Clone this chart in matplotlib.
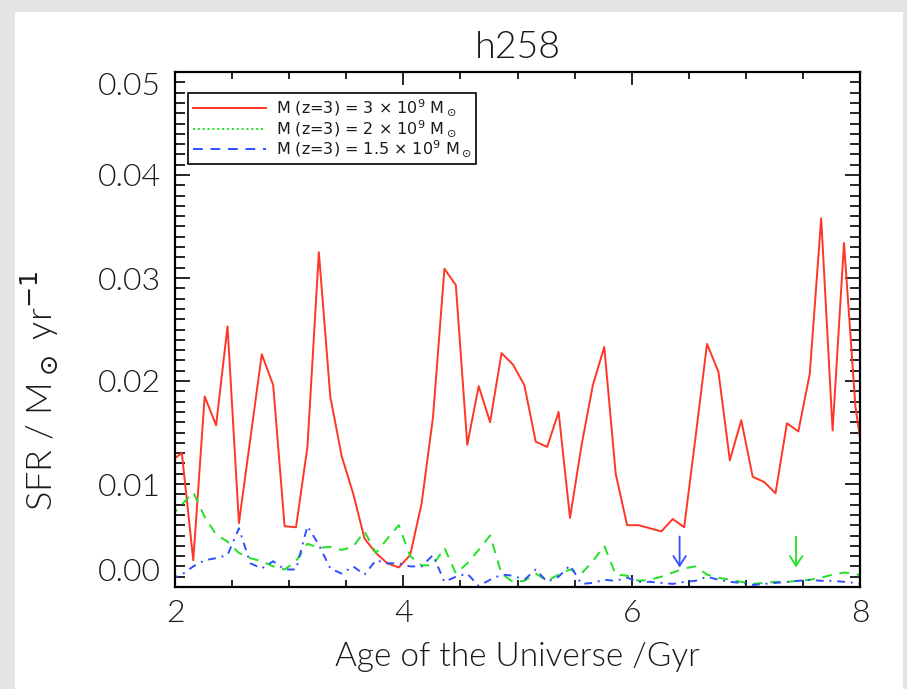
import numpy as np
import matplotlib
matplotlib.use("Agg")
import matplotlib.pyplot as plt
from matplotlib.lines import Line2D
from matplotlib.patches import Rectangle
from matplotlib.ticker import MultipleLocator, FormatStrFormatter

# output times (Gyr), one snapshot every 0.1 Gyr
t = 1.96 + 0.1 * np.arange(62)

# star formation rate (Msun/yr) of the three progenitors
sfr_3e9 = [0.0122, 0.0130, 0.0026, 0.0185, 0.0157, 0.0253, 0.0062, 0.0144, 0.0226, 0.0196,
           0.0059, 0.0058, 0.0136, 0.0325, 0.0185, 0.0127, 0.0091, 0.0047, 0.0033, 0.0023,
           0.0019, 0.0031, 0.0081, 0.0165, 0.0309, 0.0293, 0.0138, 0.0195, 0.0160, 0.0227,
           0.0216, 0.0196, 0.0141, 0.0136, 0.0170, 0.0067, 0.0137, 0.0196, 0.0233, 0.0110,
           0.0060, 0.0060, 0.0057, 0.0054, 0.0066, 0.0058, 0.0146, 0.0236, 0.0209, 0.0123,
           0.0162, 0.0107, 0.0102, 0.0091, 0.0159, 0.0151, 0.0207, 0.0358, 0.0152, 0.0334,
           0.0175, 0.0100]
sfr_2e9 = [0.0068, 0.0080, 0.0092, 0.0068, 0.0051, 0.0044, 0.0033, 0.0028, 0.0025, 0.0020,
           0.0017, 0.0025, 0.0042, 0.0038, 0.0039, 0.0036, 0.0039, 0.0054, 0.0033, 0.0047,
           0.0060, 0.0030, 0.0021, 0.0021, 0.0038, 0.0013, 0.0023, 0.0036, 0.0050, 0.0013,
           0.0005, 0.0006, 0.0013, 0.0006, 0.0012, 0.0017, 0.0013, 0.0025, 0.0040, 0.0012,
           0.0011, 0.0006, 0.0007, 0.0010, 0.0014, 0.0018, 0.0020, 0.0012, 0.0009, 0.0007,
           0.0005, 0.0003, 0.0004, 0.0005, 0.0005, 0.0006, 0.0007, 0.0009, 0.0012, 0.0014,
           0.0013, 0.0008]
sfr_15e9 = [0.0008, 0.0012, 0.0020, 0.0026, 0.0028, 0.0031, 0.0057, 0.0023, 0.0018, 0.0025,
            0.0017, 0.0017, 0.0059, 0.0041, 0.0018, 0.0013, 0.0020, 0.0012, 0.0026, 0.0023,
            0.0023, 0.0020, 0.0020, 0.0031, 0.0005, 0.0010, 0.0013, 0.0001, 0.0007, 0.0012,
            0.0011, 0.0007, 0.0017, 0.0005, 0.0010, 0.0021, 0.0003, 0.0004, 0.0007, 0.0006,
            0.0009, 0.0005, 0.0005, 0.0004, 0.0003, 0.0005, 0.0006, 0.0010, 0.0007, 0.0005,
            0.0004, 0.0002, 0.0003, 0.0004, 0.0005, 0.0006, 0.0007, 0.0006, 0.0006, 0.0005,
            0.0004, 0.0002]

# merger times marked with arrows (Gyr)
arrow_t = [6.42, 7.44]
arrow_top = 0.0049
arrow_tip = 0.0019

yticks = [0.0, 0.01, 0.02, 0.03, 0.04, 0.05]
xticks = [2, 4, 6, 8]

labels = [r"M (z=3) = 3 $\times$ 10$^9$ M$_\odot$",
          r"M (z=3) = 2 $\times$ 10$^9$ M$_\odot$",
          r"M (z=3) = 1.5 $\times$ 10$^9$ M$_\odot$"]

RED = "#ff3526"
GREEN = "#22e022"
BLUE = "#2f50ff"
TXT = "#1a1a1a"

plt.rcParams["font.family"] = ["Lato", "DejaVu Sans"]
plt.rcParams["font.weight"] = 300
plt.rcParams["axes.labelweight"] = 300
plt.rcParams["axes.titleweight"] = 300
plt.rcParams["mathtext.fontset"] = "dejavusans"

fig = plt.figure(figsize=(9.07, 6.89), dpi=100, facecolor="#e4e4e4")
fig.patches.append(Rectangle((15 / 907, 0), 888 / 907, 677 / 689, transform=fig.transFigure,
                             facecolor="white", edgecolor="none", zorder=-5))
ax = fig.add_axes([175 / 907, 102 / 689, 685 / 907, 515 / 689])
ax.set_zorder(2)
ax.patch.set_alpha(0)

ax.plot(t, sfr_3e9, color=RED, lw=1.4)
ax.plot(t, sfr_2e9, color=GREEN, lw=1.4, ls=(0, (5, 4)))
ax.plot(t, sfr_15e9, color=BLUE, lw=1.4, ls=(0, (4, 3, 1, 3)))

for xa, c in zip(arrow_t, [BLUE, GREEN]):
    ax.annotate("", xy=(xa, arrow_tip), xytext=(xa, arrow_top),
                arrowprops=dict(arrowstyle="->,head_length=0.7,head_width=0.45",
                                color=c, lw=1.3, shrinkA=0, shrinkB=0))

ax.set_xlim(2, 8)
ax.set_ylim(0, 0.05)
ax.set_xticks(xticks)
ax.set_yticks(yticks)
ax.xaxis.set_minor_locator(MultipleLocator(0.5))
ax.yaxis.set_minor_locator(MultipleLocator(0.001))
ax.yaxis.set_major_formatter(FormatStrFormatter("%.2f"))

ax.tick_params(which="both", direction="in", top=True, right=True, width=1.2,
               labelsize=23, labelcolor=TXT)
ax.tick_params(axis="x", which="major", length=9, pad=9)
ax.tick_params(axis="x", which="minor", length=5)
ax.tick_params(axis="y", which="major", length=11, pad=10)
ax.tick_params(axis="y", which="minor", length=7)
for s in ax.spines.values():
    s.set_linewidth(1.6)

# keep the end labels inside the axis height
ylabs = ax.get_yticklabels()
ylabs[0].set_verticalalignment("bottom")
ylabs[-1].set_verticalalignment("top")

ax.set_xlabel("Age of the Universe /Gyr", fontsize=24, color=TXT, labelpad=10)
ax.set_ylabel(r"SFR / M$_\odot$ yr$^{-1}$", fontsize=26, color=TXT)
ax.yaxis.set_label_coords(-0.168, 0.38)
ax.set_title("h258", fontsize=27, color=TXT, pad=10)

handles = [Line2D([], [], color=RED, lw=1.4),
           Line2D([], [], color=GREEN, lw=1.4, ls=(0, (1, 1.5))),
           Line2D([], [], color=BLUE, lw=1.4, ls=(0, (5, 4)))]
leg = ax.legend(handles, labels, loc="upper left", bbox_to_anchor=(0.019, 0.96),
                borderaxespad=0, handlelength=4.6, handletextpad=0.6,
                labelspacing=0.0, borderpad=0.3, fancybox=False, framealpha=1,
                edgecolor="black", prop={"family": "DejaVu Sans", "size": 11.5})
leg.get_frame().set_linewidth(1.2)
for txt in leg.get_texts():
    txt.set_color(TXT)

fig.savefig("out.png", dpi=100, facecolor=fig.get_facecolor())
